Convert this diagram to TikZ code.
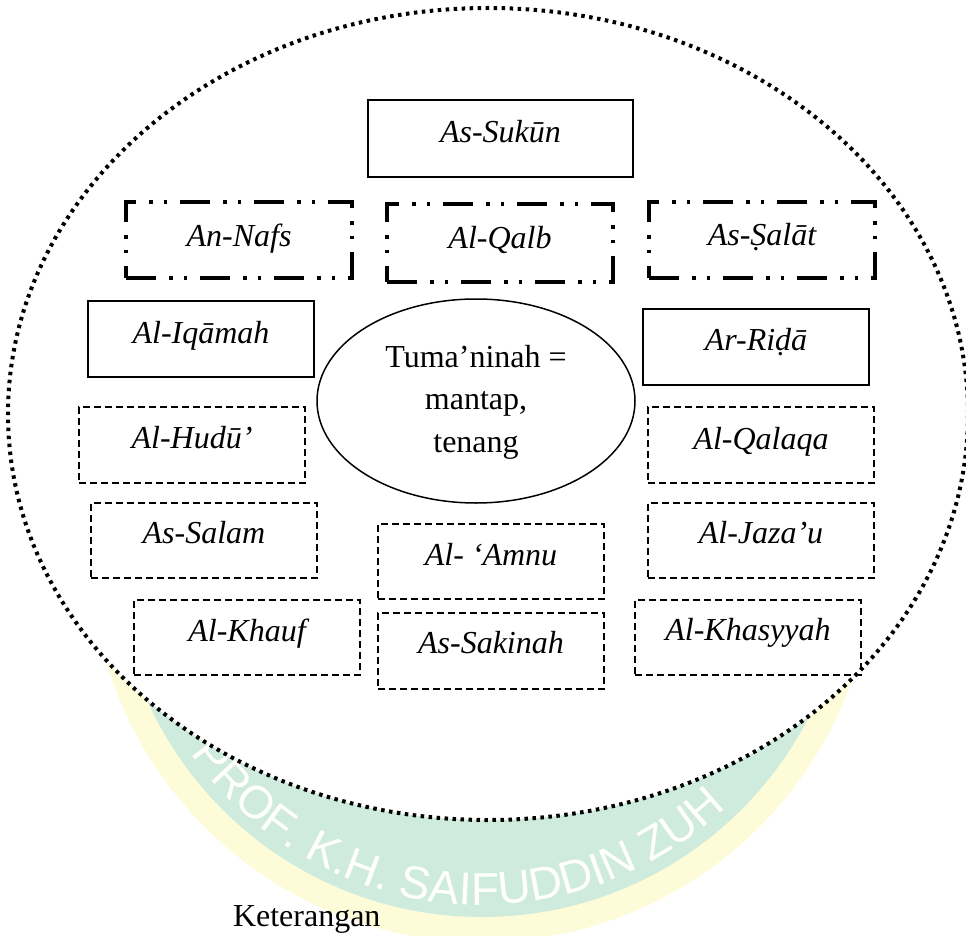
\documentclass[tikz,border=0pt]{standalone}
\usepackage{fontspec}
\setmainfont{Liberation Serif}
\newfontfamily\wmfont{Liberation Sans}
\usetikzlibrary{decorations.text,shapes.geometric}
\definecolor{wmyellow}{HTML}{FEFCD8}
\definecolor{wmteal}{HTML}{CFEBDD}
\begin{document}
\begin{tikzpicture}[x=1pt,y=1pt,
  every node/.style={inner sep=0pt, outer sep=0pt},
  solidbox/.style={draw, line width=1.5pt, minimum width=226pt, minimum height=76pt, anchor=north west},
  dashbox/.style={draw, line width=1.3pt, dash pattern=on 7pt off 4pt, minimum width=226pt, minimum height=76pt, anchor=north west},
  ddbox/.style={draw, line width=3.5pt, dash pattern=on 30pt off 13pt on 3.5pt off 11pt on 3.5pt off 13pt, minimum width=226pt, minimum height=76pt, anchor=north west},
  lbl/.style={font=\fontsize{32}{38}\selectfont\itshape, anchor=base},
]
\useasboundingbox (0,0) rectangle (966,-936);
\clip (0,0) rectangle (966,-936);
% watermark
\fill[wmyellow] (482,-550) circle[radius=392];
\fill[wmteal] (482,-550) circle[radius=367];
\path[decorate, decoration={text along path, text={|\wmfont\fontsize{46}{46}\selectfont\color{white}|PROF. K.H. SAIFUDDIN ZUH}}]
  ([shift={(215:355)}]482,-550) arc[start angle=215, end angle=330, radius=355];
% outer dotted ellipse
\node[ellipse, draw, fill=white, line width=4pt, dash pattern=on 3.5pt off 4.5pt,
  minimum width=960pt, minimum height=812pt] (outer) at (488,-414) {};
% boxes
\node[solidbox, minimum width=265pt, minimum height=77pt] (sukun) at (368,-100) {};
\node[lbl] at ([yshift=-43pt]sukun.north) {As-Sukūn};
\node[ddbox] (nafs) at (126,-202) {};
\node[lbl] at ([yshift=-44pt]nafs.north) {An-Nafs};
\node[ddbox, minimum height=78pt] (qalb) at (387,-204) {};
\node[lbl] at ([yshift=-44pt]qalb.north) {Al-Qalb};
\node[ddbox] (salat) at (649,-202) {};
\node[lbl] at ([yshift=-43pt]salat.north) {As-Ṣalāt};
\node[solidbox] (iqamah) at (88,-301) {};
\node[lbl] at ([yshift=-42pt]iqamah.north) {Al-Iqāmah};
\node[solidbox] (rida) at (643,-309) {};
\node[lbl] at ([yshift=-41pt]rida.north) {Ar-Riḍā};
\node[dashbox] (hudu) at (79,-407) {};
\node[lbl] at ([yshift=-41pt]hudu.north) {Al-Hudū’};
\node[dashbox] (qalaqa) at (648,-407) {};
\node[lbl] at ([yshift=-42pt]qalaqa.north) {Al-Qalaqa};
\node[dashbox, minimum height=75pt] (salam) at (91,-503) {};
\node[lbl] at ([yshift=-40pt]salam.north) {As-Salam};
\node[dashbox, minimum height=75pt] (jazau) at (648,-503) {};
\node[lbl] at ([yshift=-40pt]jazau.north) {Al-Jaza’u};
\node[dashbox, minimum height=75pt] (amnu) at (378,-524) {};
\node[lbl] at ([yshift=-41pt]amnu.north) {Al- ‘Amnu};
\node[dashbox, minimum height=75pt] (khauf) at (134,-600) {};
\node[lbl] at ([yshift=-41pt]khauf.north) {Al-Khauf};
\node[dashbox] (sakinah) at (378,-613) {};
\node[lbl] at ([yshift=-40pt]sakinah.north) {As-Sakinah};
\node[dashbox, minimum height=75pt] (khasyyah) at (635,-600) {};
\node[lbl] at ([yshift=-40pt]khasyyah.north) {Al-Khasyyah};
% centre ellipse
\node[ellipse, draw, line width=1.5pt, minimum width=318pt, minimum height=204pt] (tuma) at (476,-401) {};
\node[align=center, font=\fontsize{32}{42.5}\selectfont] (tumatext) at ([yshift=-1pt]tuma.center) {Tuma’ninah =\\mantap,\\tenang};
% caption
\node[anchor=base west, font=\fontsize{32}{38}\selectfont] (ket) at (233,-926) {Keterangan};
\end{tikzpicture}
\end{document}
